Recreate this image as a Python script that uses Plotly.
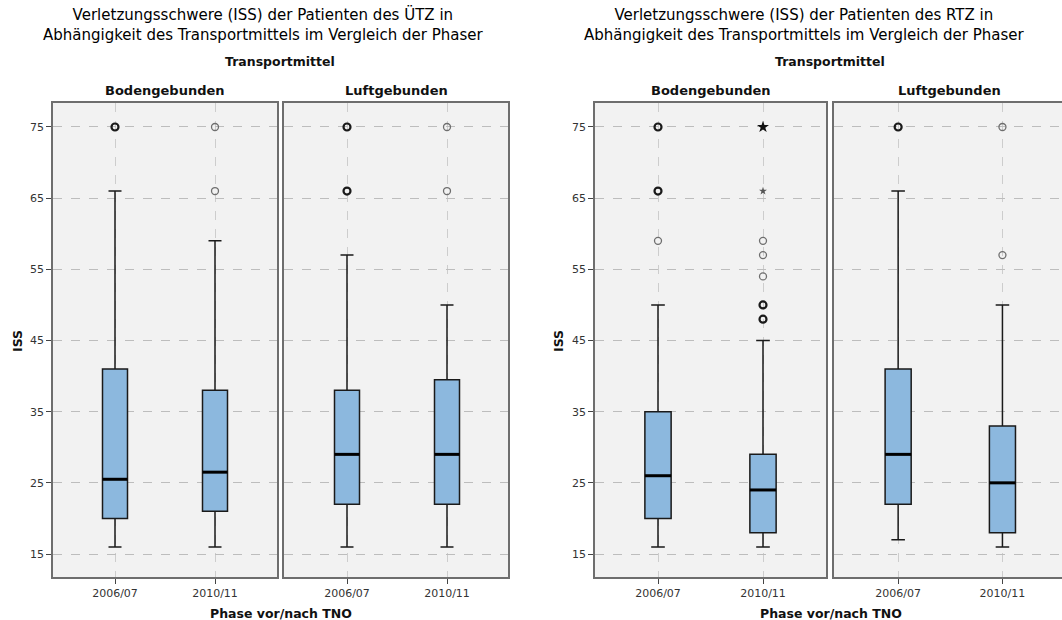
import plotly.graph_objects as go
from collections import Counter

# ---------------- data ----------------
phases = ["2006/07", "2010/11"]
transport = ["Bodengebunden", "Luftgebunden"]
y_ticks = [15, 25, 35, 45, 55, 65, 75]

titles_utz = ["Verletzungsschwere (ISS) der Patienten des ÜTZ in",
              "Abhängigkeit des Transportmittels im Vergleich der Phaser"]
titles_rtz = ["Verletzungsschwere (ISS) der Patienten des RTZ in",
              "Abhängigkeit des Transportmittels im Vergleich der Phaser"]

# order: Boden 2006/07, Boden 2010/11, Luft 2006/07, Luft 2010/11
utz_lower = [16, 16, 16, 16]
utz_q1 = [20, 21, 22, 22]
utz_median = [25.5, 26.5, 29, 29]
utz_q3 = [41, 38, 38, 39.5]
utz_upper = [66, 59, 57, 50]
utz_outliers = [[75, 75], [66, 75], [66, 66, 75, 75], [66, 75]]
utz_extremes = [[], [], [], []]

rtz_lower = [16, 16, 17, 16]
rtz_q1 = [20, 18, 22, 18]
rtz_median = [26, 24, 29, 25]
rtz_q3 = [35, 29, 41, 33]
rtz_upper = [50, 45, 66, 50]
rtz_outliers = [[59, 66, 66, 75, 75], [48, 48, 50, 50, 54, 57, 59], [75, 75], [57, 75]]
rtz_extremes = [[], [66, 75, 75], [], []]

# ---------------- styling ----------------
FONT = "DejaVu Sans"
BOX_FILL = "#8cb8de"
FRAME = "#6e6e6e"
BOX_W = 0.25

fig = go.Figure()

charts = [
    dict(lower=utz_lower, q1=utz_q1, med=utz_median, q3=utz_q3, upper=utz_upper,
         out=utz_outliers, ext=utz_extremes, axes=[1, 2]),
    dict(lower=rtz_lower, q1=rtz_q1, med=rtz_median, q3=rtz_q3, upper=rtz_upper,
         out=rtz_outliers, ext=rtz_extremes, axes=[3, 4]),
]

for ch in charts:
    for t_i, ax in enumerate(ch["axes"]):
        xa = "x" if ax == 1 else f"x{ax}"
        ya = "y" if ax == 1 else f"y{ax}"
        for p_i, ph in enumerate(phases):
            k = t_i * 2 + p_i
            fig.add_trace(go.Box(
                x=[p_i], q1=[ch["q1"][k]], median=[ch["med"][k]], q3=[ch["q3"][k]],
                lowerfence=[ch["lower"][k]], upperfence=[ch["upper"][k]],
                width=BOX_W, whiskerwidth=0.52, fillcolor=BOX_FILL,
                line=dict(color="#1a1a1a", width=1.5),
                boxpoints=False, showlegend=False, xaxis=xa, yaxis=ya))
            # emphasised median line
            fig.add_trace(go.Scatter(
                x=[p_i - BOX_W / 2, p_i + BOX_W / 2], y=[ch["med"][k]] * 2,
                mode="lines", line=dict(color="black", width=3),
                showlegend=False, hoverinfo="skip", xaxis=xa, yaxis=ya))
            # outliers (bold when several patients share the value)
            for v, c in Counter(ch["out"][k]).items():
                fig.add_trace(go.Scatter(
                    x=[p_i], y=[v], mode="markers",
                    marker=dict(symbol="circle-open", size=7,
                                color="#1a1a1a" if c > 1 else "#6e6e6e",
                                line=dict(width=2.2 if c > 1 else 1.3)),
                    showlegend=False, xaxis=xa, yaxis=ya))
            for v, c in Counter(ch["ext"][k]).items():
                fig.add_trace(go.Scatter(
                    x=[p_i], y=[v], mode="markers",
                    marker=dict(symbol="star", size=9 if c > 1 else 6,
                                color="#111" if c > 1 else "#555"),
                    showlegend=False, xaxis=xa, yaxis=ya))

W, H = 1062, 620
px = lambda v: v / W
py = lambda v: 1 - v / H

x_domains = [(53, 277), (284, 508), (595, 826), (834, 1062)]
x_ranges = [(-0.62, 1.62), (-0.63, 1.61), (-0.6, 1.6), (-0.615, 1.571)]
y_dom = [py(577), py(103)]
y_rng = [11.77, 78.37]

layout = dict(width=W, height=H, margin=dict(l=0, r=0, t=0, b=0),
              paper_bgcolor="white", plot_bgcolor="#f2f2f2",
              font=dict(family=FONT, color="#222"), showlegend=False)

for i in range(4):
    n = "" if i == 0 else str(i + 1)
    first = i in (0, 2)
    layout["xaxis" + n] = dict(
        domain=[px(x_domains[i][0]), px(x_domains[i][1])], range=list(x_ranges[i]),
        anchor="y" + n, tickvals=[0, 1], ticktext=phases,
        ticks="outside", ticklen=5, tickcolor="#444", tickwidth=1,
        tickfont=dict(size=11, color="#333", family=FONT),
        showgrid=True, gridcolor="#cdcdcd", griddash="dash", gridwidth=1,
        zeroline=False, showline=True, linecolor=FRAME, linewidth=1.6, mirror=True,
        fixedrange=True)
    layout["yaxis" + n] = dict(
        domain=y_dom, range=y_rng, anchor="x" + n, tickvals=y_ticks,
        showticklabels=first, ticks="outside" if first else "", ticklen=5,
        tickcolor="#444", tickfont=dict(size=11, color="#333", family=FONT),
        showgrid=True, gridcolor="#bdbdbd", griddash="dash", gridwidth=1,
        zeroline=False, showline=True, linecolor=FRAME, linewidth=1.6,
        mirror=(i != 3), fixedrange=True)

ann = []
def text(x, y, s, size, bold=False, angle=0, color="#111"):
    ann.append(dict(x=px(x), y=py(y), xref="paper", yref="paper", text=f"<b>{s}</b>" if bold else s,
                    showarrow=False, xanchor="center", yanchor="middle", textangle=angle,
                    font=dict(size=size, family=FONT, color=color)))

for cx, lines in ((263, titles_utz), (804, titles_rtz)):
    text(cx, 25, "<br>".join(lines), 15, color="#000")

for cx in (280, 830):
    text(cx, 61, "Transportmittel", 12.5, bold=True)
for i, (a, b) in enumerate(x_domains):
    width = b - a if i < 3 else 231
    text(a + width / 2, 91, transport[i % 2], 13, bold=True)

text(17, 341, "ISS", 12.5, bold=True, angle=-90)
text(558, 341, "ISS", 12.5, bold=True, angle=-90)
text(281, 613, "Phase vor/nach TNO", 12.5, bold=True)
text(831, 613, "Phase vor/nach TNO", 12.5, bold=True)

layout["annotations"] = ann
fig.update_layout(**layout)
fig.write_html("out.html")
